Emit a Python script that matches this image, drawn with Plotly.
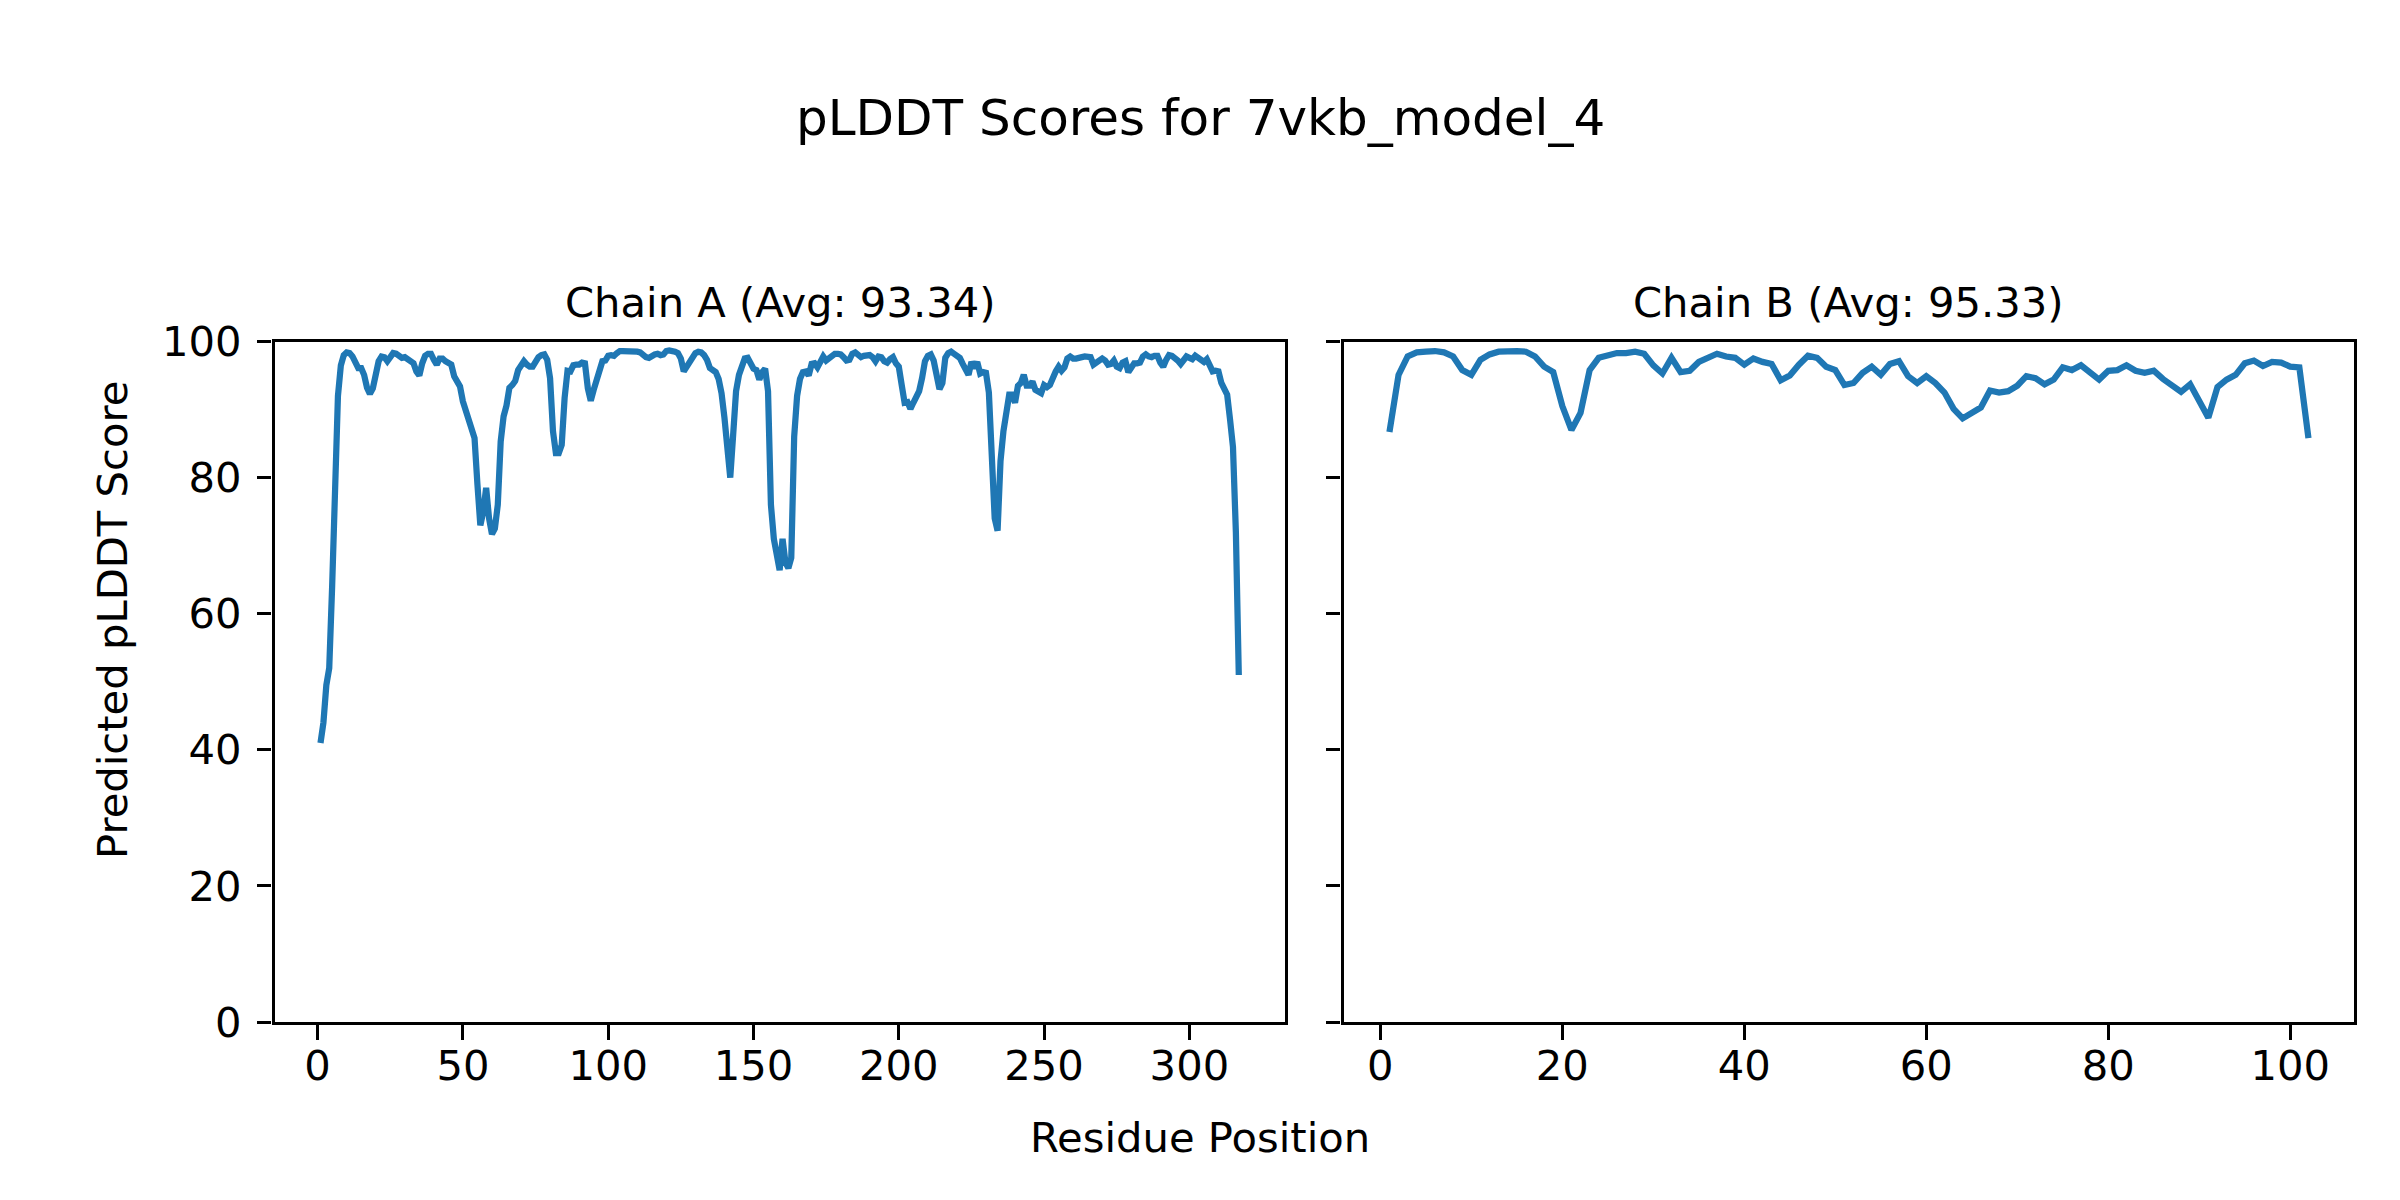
import plotly.graph_objects as go

# ---------------- data ----------------
title_text = "pLDDT Scores for 7vkb_model_4"
chain_names = ["A", "B"]
chain_avgs = [93.34, 95.33]
x_label = "Residue Position"
y_label = "Predicted pLDDT Score"
y_ticks = [0, 20, 40, 60, 80, 100]
xa_ticks = [0, 50, 100, 150, 200, 250, 300]
xb_ticks = [0, 20, 40, 60, 80, 100]

chain_a_scores = [
    41.0, 44.0, 49.5, 52.0, 64.0, 81.0, 92.0, 96.5, 98.0, 98.4,
    98.3, 97.8, 96.7, 96.1, 96.1, 95.1, 93.2, 92.3, 93.1, 95.6,
    97.1, 97.8, 97.7, 97.1, 97.6, 98.3, 98.2, 97.9, 97.6, 97.7,
    97.3, 97.0, 96.8, 95.6, 95.0, 96.8, 97.9, 98.2, 98.2, 97.3,
    96.6, 97.5, 97.5, 97.1, 96.8, 96.6, 94.9, 93.9, 93.4, 91.2,
    89.8, 88.9, 87.3, 85.8, 79.0, 73.0, 75.0, 78.5, 74.0, 71.7,
    72.5, 76.0, 85.3, 89.0, 90.6, 93.2, 93.6, 94.2, 95.8, 96.4,
    97.1, 96.6, 96.3, 96.3, 97.1, 97.7, 98.0, 98.1, 97.3, 94.6,
    86.8, 83.6, 83.6, 84.8, 91.7, 95.7, 95.6, 96.5, 96.6, 96.6,
    96.9, 96.8, 93.1, 91.3, 92.9, 94.1, 95.6, 97.1, 97.2, 97.9,
    98.0, 97.9, 98.3, 98.6, 98.6, 98.6, 98.7, 98.7, 98.7, 98.5,
    98.4, 98.0, 97.7, 97.6, 98.0, 98.1, 98.2, 98.0, 98.1, 98.6,
    98.7, 98.7, 98.5, 98.3, 97.5, 95.6, 96.3, 96.6, 97.5, 98.3,
    98.5, 98.4, 98.0, 97.3, 96.1, 95.7, 95.5, 94.5, 92.4, 88.8,
    84.4, 80.0, 86.3, 92.7, 95.1, 96.7, 97.5, 97.6, 96.9, 96.0,
    95.8, 94.4, 95.5, 96.0, 92.7, 76.0, 71.0, 68.5, 66.4, 71.0,
    67.5, 66.7, 68.2, 86.0, 92.0, 94.5, 95.5, 95.6, 95.0, 96.7,
    96.8, 96.2, 96.9, 97.8, 97.2, 97.5, 97.8, 98.2, 98.2, 98.1,
    97.7, 97.2, 97.3, 98.2, 98.4, 98.0, 97.7, 97.9, 98.0, 98.0,
    97.7, 97.1, 97.8, 97.7, 97.1, 96.9, 97.4, 97.7, 96.8, 96.3,
    93.6, 91.0, 91.1, 90.1, 91.0, 91.8, 92.7, 94.6, 97.1, 97.9,
    98.1, 97.2, 94.9, 93.0, 93.9, 97.6, 98.3, 98.5, 98.2, 97.9,
    97.6, 96.7, 95.7, 95.1, 97.0, 96.1, 97.0, 95.3, 95.5, 95.4,
    92.5, 83.0, 74.0, 72.2, 82.4, 86.8, 89.7, 92.2, 92.2, 91.0,
    93.5, 93.9, 95.1, 93.5, 93.5, 94.1, 92.9, 92.7, 92.4, 93.6,
    93.3, 93.6, 94.8, 95.6, 96.3, 95.7, 96.2, 97.5, 97.8, 97.5,
    97.5, 97.5, 97.7, 97.8, 97.8, 97.7, 96.6, 96.9, 97.2, 97.5,
    97.2, 96.6, 96.7, 97.2, 96.3, 96.1, 96.9, 97.1, 95.5, 96.0,
    96.8, 96.8, 96.9, 97.8, 98.1, 97.8, 97.7, 97.9, 97.9, 96.9,
    96.3, 97.3, 98.0, 97.9, 97.6, 97.2, 96.7, 97.3, 97.8, 97.6,
    97.4, 97.9, 97.6, 97.2, 97.0, 97.4, 96.5, 95.6, 95.7, 95.6,
    93.9, 92.9, 92.2, 88.5, 84.5, 72.0, 51.0,
]

chain_b_scores = [
    86.7, 95.1, 97.8, 98.4, 98.5, 98.6, 98.4, 97.8, 95.8, 95.1,
    97.3, 98.1, 98.5, 98.6, 98.6, 98.5, 97.8, 96.3, 95.5, 90.5,
    87.0, 89.5, 95.8, 97.6, 98.0, 98.3, 98.3, 98.5, 98.2, 96.5,
    95.3, 97.6, 95.5, 95.7, 97.0, 97.7, 98.2, 97.8, 97.6, 96.6,
    97.5, 97.0, 96.7, 94.3, 95.0, 96.6, 97.9, 97.6, 96.3, 95.8,
    93.6, 93.9, 95.4, 96.3, 95.1, 96.7, 97.1, 94.9, 93.9, 94.9,
    93.9, 92.5, 90.1, 88.7, 89.6, 90.3, 92.8, 92.5, 92.7, 93.5,
    94.9, 94.6, 93.7, 94.4, 96.2, 95.8, 96.5, 95.5, 94.4, 95.7,
    95.8, 96.5, 95.7, 95.4, 95.7, 94.5, 93.5, 92.6, 93.7, 91.4,
    88.8, 93.3, 94.4, 95.1, 96.8, 97.2, 96.4, 97.0, 96.9, 96.3,
    96.2, 85.8,
]

chain_a_pos = list(range(1, len(chain_a_scores) + 1))
chain_b_pos = list(range(1, len(chain_b_scores) + 1))

# ---------------- styling ----------------
W, H = 2400, 1200
OFF = 8  # page body margin compensation
FONT = "DejaVu Sans"
TICK_PX = 41.7
TITLE_PX = 50
LINE_COLOR = "#1f77b4"
SPINE_W = 3.3
TICK_LEN = 14.6


def px_x(p):
    return (p - OFF) / W


def px_y(p):
    return 1 - (p - OFF) / H


def pad_range(lo, hi, frac=0.05):
    span = hi - lo
    return [lo - span * frac, hi + span * frac]


fig = go.Figure()
fig.add_trace(go.Scatter(x=chain_a_pos, y=chain_a_scores, mode="lines",
                         line=dict(color=LINE_COLOR, width=6.25),
                         xaxis="x", yaxis="y", showlegend=False))
fig.add_trace(go.Scatter(x=chain_b_pos, y=chain_b_scores, mode="lines",
                         line=dict(color=LINE_COLOR, width=6.25),
                         xaxis="x2", yaxis="y2", showlegend=False))

axis_common = dict(
    showline=True, mirror=True, linecolor="black", linewidth=SPINE_W,
    ticks="outside", ticklen=TICK_LEN, tickwidth=SPINE_W, tickcolor="black",
    showgrid=False, zeroline=False, automargin=False,
    tickfont=dict(family=FONT, size=TICK_PX, color="black"),
)

y_dom = [px_y(1022), px_y(341.5)]

fig.update_layout(
    template="none",
    width=W, height=H,
    margin=dict(l=0, r=0, t=0, b=0, pad=0),
    paper_bgcolor="white", plot_bgcolor="white",
    font=dict(family=FONT, color="black"),
    showlegend=False,
    xaxis=dict(domain=[px_x(274.6), px_x(1284.7)],
               range=pad_range(min(chain_a_pos), max(chain_a_pos)),
               tickvals=xa_ticks, anchor="y", ticklabelstandoff=-10, **axis_common),
    xaxis2=dict(domain=[px_x(1343.5), px_x(2354.4)],
                range=pad_range(min(chain_b_pos), max(chain_b_pos)),
                tickvals=xb_ticks, anchor="y2", ticklabelstandoff=-10, **axis_common),
    yaxis=dict(domain=y_dom, range=[0, 100], tickvals=y_ticks, anchor="x",
               ticklabelstandoff=7, **axis_common),
    yaxis2=dict(domain=y_dom, range=[0, 100], tickvals=y_ticks, anchor="x2",
                showticklabels=False, **axis_common),
)

annotations = [
    dict(text=title_text, x=px_x(1200), y=px_y(118), xref="paper", yref="paper",
         xanchor="center", yanchor="middle", showarrow=False,
         font=dict(family=FONT, size=TITLE_PX, color="black")),
    dict(text=f"Chain {chain_names[0]} (Avg: {chain_avgs[0]:.2f})",
         x=px_x((274.6 + 1284.7) / 2), y=px_y(302), xref="paper", yref="paper",
         xanchor="center", yanchor="middle", showarrow=False,
         font=dict(family=FONT, size=TICK_PX, color="black")),
    dict(text=f"Chain {chain_names[1]} (Avg: {chain_avgs[1]:.2f})",
         x=px_x((1343.5 + 2354.4) / 2), y=px_y(302), xref="paper", yref="paper",
         xanchor="center", yanchor="middle", showarrow=False,
         font=dict(family=FONT, size=TICK_PX, color="black")),
    dict(text=x_label, x=px_x(1200), y=px_y(1137), xref="paper", yref="paper",
         xanchor="center", yanchor="middle", showarrow=False,
         font=dict(family=FONT, size=TICK_PX, color="black")),
    dict(text=y_label, x=px_x(112), y=px_y(620), xref="paper", yref="paper",
         xanchor="center", yanchor="middle", showarrow=False, textangle=-90,
         font=dict(family=FONT, size=TICK_PX, color="black")),
]
fig.update_layout(annotations=annotations)

fig.write_html("out.html")
